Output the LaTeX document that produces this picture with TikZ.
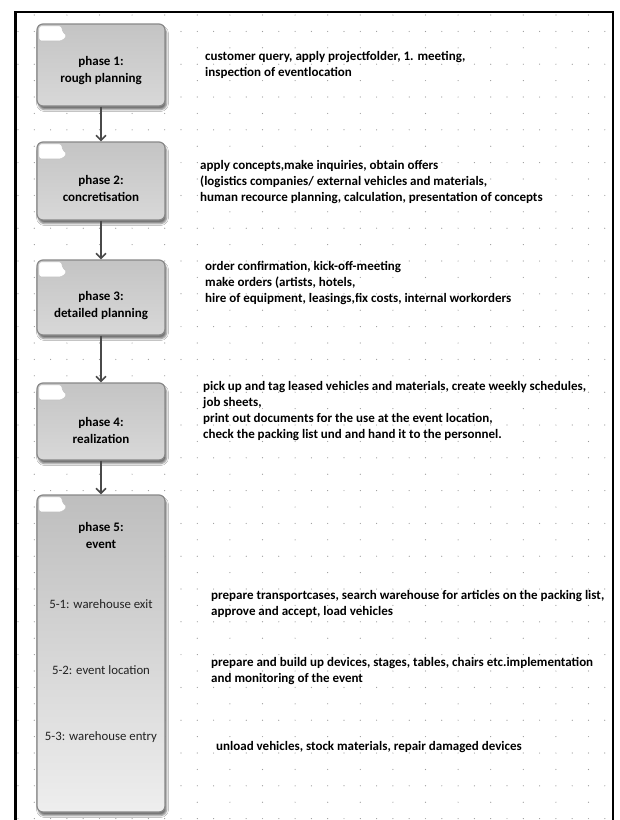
\documentclass[tikz,border=0pt]{standalone}
\usepackage{fontspec}
\setmainfont{Carlito}
\usetikzlibrary{arrows.meta,shadows.blur,calc}
\definecolor{boxtop}{HTML}{C4C4C4}
\definecolor{boxbot}{HTML}{D8D8D8}
\definecolor{boxtopb}{HTML}{BEBEBE}
\definecolor{boxbotb}{HTML}{EEEEEE}
\definecolor{boxedge}{HTML}{888888}
\definecolor{arrowc}{HTML}{4A4A4A}
\definecolor{dotc}{HTML}{9A9A9A}
\definecolor{sublbl}{HTML}{222222}
\begin{document}
\begin{tikzpicture}[x=1pt,y=-1pt,
  phasebox/.style={draw=boxedge, line width=1.2pt, rounded corners=6pt,
    top color=boxtop, bottom color=boxbot,
    blur shadow={shadow xshift=1.5pt, shadow yshift=-3.5pt, shadow blur steps=4, shadow opacity=55},
    minimum width=128pt, inner sep=0pt},
  bigbox/.style={phasebox, top color=boxtopb, bottom color=boxbotb},
  tabicon/.style={fill=white, draw=gray!50, line width=.4pt, rounded corners=2.5pt},
  lbl/.style={font=\bfseries\fontsize{13}{17}\selectfont, align=center, inner sep=0pt, anchor=north},
  sublabel/.style={font=\fontsize{12.8}{14}\selectfont, text=sublbl, inner sep=0pt},
  txt/.style={font=\bfseries\fontsize{13}{16}\selectfont, align=left, anchor=north west, inner sep=0pt},
  conn/.style={draw=arrowc, line width=1.6pt, -{Straight Barb[length=5pt,width=10pt]}}
]
\useasboundingbox (0,0) rectangle (620,820);
\fill[white] (0,0) rectangle (620,820);
% dot grid
\foreach \r in {0,...,49}{
  \pgfmathsetmacro{\yy}{15+16.4*\r}
  \ifodd\r
    \foreach \k in {0,...,36}{\fill[dotc] (18+16.3*\k,\yy) circle (0.6);}
  \else
    \foreach \k in {0,...,17}{\fill[dotc] (34.3+32.6*\k,\yy) circle (0.6);}
  \fi
}
% frame
\draw[line width=2pt] (15,822) -- (15,12) -- (613,12) -- (613,822);
\draw[line width=3pt] (15,12) -- (15,822);
% boxes
\node[phasebox, minimum height=82pt] (p1) at (101,65) {};
\node[phasebox, minimum height=78pt] (p2) at (101,181) {};
\node[phasebox, minimum height=75pt] (p3) at (101,297.5) {};
\node[phasebox, minimum height=77pt] (p4) at (101,421.5) {};
\node[bigbox, minimum height=317pt] (p5) at (101,653.5) {};
% tab icons
\foreach \b in {p1,p2,p3,p4,p5}{
  \coordinate (t\b) at ($(\b.north west)+(2.5,2.5)$);
  \draw[tabicon] (t\b) -- ++(23,0) -- ++(0,5) -- ++(5,5) -- ++(-5,5) -- ++(-23,0) -- cycle;
}
% connectors
\draw[conn] (p1.south) -- (p2.north);
\draw[conn] (p2.south) -- (p3.north);
\draw[conn] (p3.south) -- (p4.north);
\draw[conn] (p4.south) -- (p5.north);
% box labels
\node[lbl] (l1) at (101,56.5) {phase 1:\\rough planning};
\node[lbl] (l2) at (101,175.5) {phase 2:\\concretisation};
\node[lbl] (l3) at (101,291.5) {phase 3:\\detailed planning};
\node[lbl] (l4) at (101,417.5) {phase 4:\\realization};
\node[lbl] (l5) at (101,522.5) {phase 5:\\event};
\node[sublabel] (s1) at (101,604) {5-1: warehouse exit};
\node[sublabel] (s2) at (101,670) {5-2: event location};
\node[sublabel] (s3) at (101,737) {5-3: warehouse entry};
% descriptions
\node[txt] (t1) at (205,51.5) {customer query, apply projectfolder, 1. meeting,\\inspection of eventlocation};
\node[txt] (t2) at (200,160.5) {apply concepts,make inquiries, obtain offers\\(logistics companies/ external vehicles and materials,\\human recource planning, calculation, presentation of concepts};
\node[txt] (t3) at (205,261.5) {order confirmation, kick-off-meeting\\make orders (artists, hotels,\\hire of equipment, leasings,fix costs, internal workorders};
\node[txt] (t4) at (203,381.5) {pick up and tag leased vehicles and materials, create weekly schedules,\\job sheets,\\print out documents for the use at the event location,\\check the packing list und and hand it to the personnel.};
\node[txt] (t51) at (211,590.5) {prepare transportcases, search warehouse for articles on the packing list,\\approve and accept, load vehicles};
\node[txt] (t52) at (211,657.5) {prepare and build up devices, stages, tables, chairs etc.implementation\\and monitoring of the event};
\node[txt] (t53) at (216,741.5) {unload vehicles, stock materials, repair damaged devices};
\end{tikzpicture}
\end{document}
